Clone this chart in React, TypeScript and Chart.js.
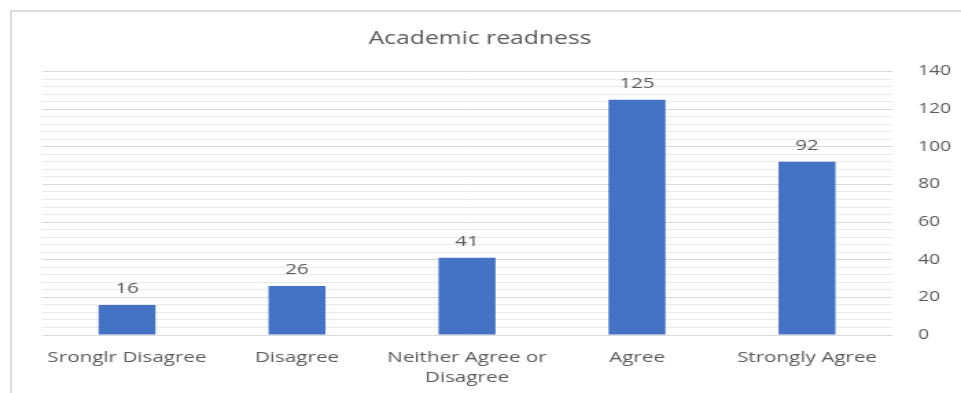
import React, { useEffect, useRef } from "react";
import { Chart, registerables } from "chart.js";

Chart.register(...registerables);

// Survey responses
const title = "Academic readness";
const categories: (string | string[])[] = [
  "Sronglr Disagree",
  "Disagree",
  ["Neither Agree or", "Disagree"],
  "Agree",
  "Strongly Agree",
];
const counts = [16, 26, 41, 125, 92];
const yMax = 140;
const yMajorStep = 20;
const yMinorStep = 4;

// The chart is laid out on a narrower canvas and stretched horizontally.
const OUT_W = 961;
const OUT_H = 393;
const IN_W = 700;
const SX = OUT_W / IN_W;

const FONT = "'Open Sans', 'DejaVu Sans', sans-serif";
const TEXT = "#595959";
const BAR = "#4472C4";

const titlePlugin = {
  id: "titleText",
  afterDraw(chart: Chart) {
    const ctx = chart.ctx;
    ctx.save();
    ctx.font = `18px ${FONT}`;
    ctx.fillStyle = TEXT;
    ctx.textAlign = "center";
    ctx.textBaseline = "middle";
    ctx.fillText(title, 480 / SX, 39);
    ctx.restore();
  },
};

const valueLabels = {
  id: "valueLabels",
  afterDatasetsDraw(chart: Chart) {
    const ctx = chart.ctx;
    const meta = chart.getDatasetMeta(0);
    ctx.save();
    ctx.font = `15px ${FONT}`;
    ctx.fillStyle = TEXT;
    ctx.textAlign = "center";
    ctx.textBaseline = "middle";
    meta.data.forEach((el: any, i: number) => {
      ctx.fillText(String(counts[i]), el.x, el.y - 16);
    });
    ctx.restore();
  },
};

export default function App() {
  const ref = useRef<HTMLCanvasElement>(null);

  useEffect(() => {
    if (!ref.current) return;
    const chart = new Chart(ref.current, {
      type: "bar",
      data: {
        labels: categories,
        datasets: [
          {
            data: counts,
            backgroundColor: BAR,
            borderWidth: 0,
            categoryPercentage: 1,
            barPercentage: 0.335,
          },
        ],
      },
      options: {
        animation: false,
        responsive: false,
        devicePixelRatio: 1,
        layout: { padding: { left: 42 / SX, top: 71.5, right: 0, bottom: 0 } },
        plugins: {
          legend: { display: false },
          tooltip: { enabled: false },
          title: { display: false },
        },
        scales: {
          x: {
            grid: { display: false, drawTicks: false },
            border: { display: false },
            ticks: {
              color: TEXT,
              font: { family: FONT, size: 15, lineHeight: 1.38 },
              padding: 12,
              maxRotation: 0,
              autoSkip: false,
            },
            afterFit(scale: any) {
              scale.height = OUT_H - 335;
            },
          },
          y: {
            position: "right",
            min: 0,
            max: yMax,
            grid: {
              drawTicks: false,
              color: (c: any) =>
                c.tick && c.tick.value % yMajorStep === 0 ? "#d9d9d9" : "#eaeaea",
              lineWidth: 1,
            },
            border: { display: false },
            ticks: {
              stepSize: yMinorStep,
              autoSkip: false,
              color: TEXT,
              font: { family: FONT, size: 14 },
              padding: 19,
              callback: (v: any) => (Number(v) % yMajorStep === 0 ? String(v) : ""),
            },
            afterFit(scale: any) {
              scale.width = IN_W - 892 / SX;
            },
          },
        },
      },
      plugins: [titlePlugin, valueLabels],
    });
    return () => chart.destroy();
  }, []);

  return (
    <div
      style={{
        position: "fixed",
        left: 0,
        top: 0,
        width: OUT_W,
        height: OUT_H,
        overflow: "hidden",
        background: "#fff",
      }}
    >
      <div
        style={{
          position: "absolute",
          left: 0,
          top: 0,
          width: IN_W,
          height: OUT_H,
          transform: `scaleX(${SX})`,
          transformOrigin: "0 0",
        }}
      >
        <canvas
          ref={ref}
          width={IN_W}
          height={OUT_H}
          style={{ width: IN_W, height: OUT_H, display: "block" }}
        />
      </div>
      <div
        style={{
          position: "absolute",
          left: 10,
          top: 10,
          right: -10,
          bottom: -10,
          borderLeft: "2px solid #dcdcdc",
          borderTop: "2px solid #dcdcdc",
          pointerEvents: "none",
        }}
      />
    </div>
  );
}
